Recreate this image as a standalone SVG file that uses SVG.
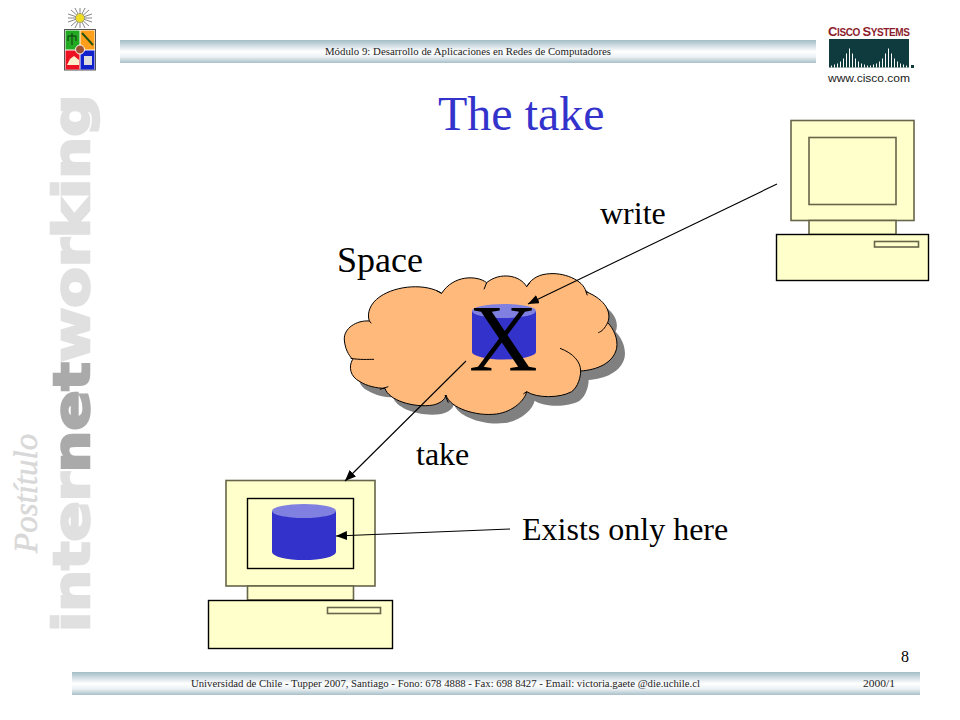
<svg xmlns="http://www.w3.org/2000/svg" width="960" height="720" viewBox="0 0 960 720">
<style>
.serif{font-family:"Liberation Serif","Times New Roman",serif}
.lbl{font-size:32px;fill:#000}
.small{font-size:10.5px;fill:#222}
.pc{fill:#ffffcc;stroke:#000;stroke-width:1.4}
.mon{fill:#ffffcc;stroke:#66664a;stroke-width:1.6}
.con{stroke:#000;stroke-width:1.1;fill:none;marker-end:url(#arr)}
.body{fill:#3333cc}
.top{fill:#8080e0}
.arc{fill:none;stroke:#000;stroke-width:3}
</style>
<defs>
<linearGradient id="bar" x1="0" y1="0" x2="0" y2="1">
<stop offset="0" stop-color="#a3bcc6"/><stop offset="0.5" stop-color="#ffffff"/><stop offset="0.72" stop-color="#eef3f5"/><stop offset="1" stop-color="#a9c0ca"/>
</linearGradient>
<marker id="arr" markerUnits="userSpaceOnUse" markerWidth="12" markerHeight="10" refX="11" refY="4.5" orient="auto">
<path d="M0 0L11 4.5L0 9Z" fill="#000"/>
</marker>
<path id="cloud" d="M118 183C80 180 40 205 43 240C45 265 55 285 68 298C55 320 60 350 90 365C110 378 140 385 165 385C175 420 250 445 310 435C330 430 345 420 348 405C360 445 440 470 500 462C550 455 585 420 590 395C620 415 690 415 725 395C745 380 752 350 752 333C800 330 850 310 860 265C865 235 850 205 833 188C845 160 830 120 768 95C760 60 700 35 650 42C620 45 600 62 590 80C570 45 510 35 470 68C440 45 370 45 335 100C290 70 200 75 150 110C120 130 110 160 118 183Z"/>
</defs>
<rect width="960" height="720" fill="#fff"/>

<g id="watermark">
<text transform="translate(89,632) rotate(-90) scale(1.18,1)" font-family="'DejaVu Sans',sans-serif" font-weight="700" font-size="50" fill="#e0e0e0" stroke="#e0e0e0" stroke-width="2.5">inter<tspan fill="#aaaaaa" stroke="#aaaaaa">net</tspan>working</text>
<text transform="translate(37,553) rotate(-90)" class="serif" font-style="italic" font-size="33" fill="#d8d8d8" stroke="#d8d8d8" stroke-width="0.5">Postítulo</text>
</g>

<g id="header">
<rect x="120" y="40" width="696" height="23" fill="url(#bar)"/>
<text x="325" y="55" class="serif small" textLength="286" lengthAdjust="spacingAndGlyphs">Módulo 9: Desarrollo de Aplicaciones en Redes de Computadores</text>
</g>

<g id="footer">
<rect x="72" y="672" width="848" height="23" fill="url(#bar)"/>
<text x="191" y="687" class="serif small" textLength="509" lengthAdjust="spacingAndGlyphs">Universidad de Chile - Tupper 2007, Santiago - Fono: 678 4888 - Fax: 698 8427 - Email: victoria.gaete @die.uchile.cl</text>
<text x="863" y="687" class="serif small" textLength="32" lengthAdjust="spacingAndGlyphs">2000/1</text>
<text x="901" y="662" class="serif" font-size="16" fill="#000">8</text>
</g>

<g id="crest">
<path d="M80 8V28M68 18H92M71 10L89 26M89 10L71 26M75 8L85 28M85 8L75 28M68 14L92 22M68 22L92 14" stroke="#555" stroke-width="0.7" fill="none"/>
<circle cx="80" cy="18" r="4.500" fill="#eedd22" stroke="#777" stroke-width="0.5"/>
<rect x="64.500" y="29.500" width="31" height="40.500" fill="#fff" stroke="#555" stroke-width="1"/>
<rect x="65.500" y="30.500" width="14" height="19" fill="#22aa22"/>
<rect x="80.500" y="30.500" width="14" height="19" fill="#ff9f1a"/>
<rect x="65.500" y="50.500" width="14" height="19" fill="#ee1122"/>
<rect x="80.500" y="50.500" width="14" height="19" fill="#1122cc"/>
<path d="M72 33V45M68 36H76M68 36V41M76 36V41" stroke="#113311" stroke-width="1" fill="none"/>
<path d="M82 33L93 45" stroke="#225511" stroke-width="2"/>
<path d="M67 65H79V60L74 56L70 59Z" fill="#ffeecc"/>
<path d="M84 65H92V56H84Z" fill="#dddddd"/>
<circle cx="80" cy="49.500" r="4.500" fill="#a05030" stroke="#fff" stroke-width="1"/>
</g>

<g id="cisco">
<text x="828" y="36" font-family="'Liberation Sans Narrow','Liberation Sans',Arial,sans-serif" font-weight="700" font-size="10" fill="#8c1c2c" textLength="82" lengthAdjust="spacing"><tspan font-size="13">C</tspan>ISCO <tspan font-size="13">S</tspan>YSTEMS</text>
<rect x="829" y="39" width="80" height="28.500" fill="#0f3a3e"/>
<path d="M831.500 67.500v-2M834.500 67.500v-3M837.500 67.500v-4M840.500 67.500v-6M843.500 67.500v-9M846.500 67.500v-14M849.500 67.500v-19M852.500 67.500v-14M855.500 67.500v-9M858.500 67.500v-6M861.500 67.500v-4M864.500 67.500v-3M867.500 67.500v-2M870.500 67.500v-2M873.500 67.500v-3M876.500 67.500v-4M879.500 67.500v-6M882.500 67.500v-9M885.500 67.500v-14M888.500 67.500v-19M891.500 67.500v-14M894.500 67.500v-9M897.500 67.500v-6M900.500 67.500v-4M903.500 67.500v-3M906.500 67.500v-2" stroke="#fff" stroke-width="1" fill="none"/>
<rect x="911" y="65" width="3" height="3" fill="#0f3a3e"/>
<text x="828" y="82" font-family="'Liberation Sans',Arial,sans-serif" font-size="11.500" fill="#222" textLength="82" lengthAdjust="spacingAndGlyphs">www.cisco.com</text>
</g>

<text id="title" x="438" y="130" class="serif" font-size="48" fill="#3333cc">The take</text>

<g id="space-cloud">
<g transform="translate(330,260) scale(0.3333)">
<use href="#cloud" transform="translate(24,27)" fill="#808080"/>
<use href="#cloud" fill="#ffb97a" stroke="#000" stroke-width="3"/>
<path class="arc" d="M62 295C90 300 115 298 132 298M175 380L150 388M345 405L355 428M690 265C730 280 752 305 752 333M833 188C825 205 815 215 805 218M335 100L320 92M470 68L462 88M590 80L600 68M768 95L772 106M590 395L580 402M118 183L124 190"/>
</g>
<text x="337" y="272" class="serif" font-size="36" fill="#000">Space</text>
</g>

<g id="cylinder-space">
<path class="body" d="M472 311V352A32 7.500 0 0 0 536 352V311Z"/>
<ellipse class="top" cx="504" cy="311" rx="32" ry="7"/>
</g>
<text id="x-mark" x="469" y="371" class="serif" font-size="95" fill="#000">X</text>

<g id="pc-top">
<rect class="mon" x="791" y="120.500" width="123" height="100"/>
<rect class="mon" x="809" y="137.500" width="87" height="67"/>
<rect class="mon" x="809" y="220.500" width="87" height="14"/>
<rect class="pc" x="776.500" y="234.500" width="152" height="46"/>
<rect class="mon" x="874.500" y="241.500" width="44" height="5.500"/>
</g>

<g id="pc-bottom">
<rect class="mon" x="226" y="480.500" width="149" height="105.500"/>
<rect class="pc" x="247.500" y="498.500" width="106" height="70"/>
<rect class="mon" x="247.500" y="586" width="106" height="14"/>
<rect class="pc" x="208.500" y="600.500" width="184" height="48"/>
<rect class="mon" x="327.500" y="607.500" width="53" height="6"/>
<path class="body" d="M272 511V552A32 8 0 0 0 336 552V511Z"/>
<ellipse class="top" cx="304" cy="511" rx="32" ry="7"/>
</g>

<g id="connectors">
<line class="con" x1="777" y1="184" x2="528" y2="304"/>
<line class="con" x1="466" y1="361" x2="345" y2="481"/>
<line class="con" x1="510" y1="529" x2="336" y2="536"/>
</g>

<g id="labels">
<text x="600" y="224" class="serif lbl">write</text>
<text x="416" y="465" class="serif lbl">take</text>
<text x="522" y="540" class="serif lbl">Exists only here</text>
</g>
</svg>
